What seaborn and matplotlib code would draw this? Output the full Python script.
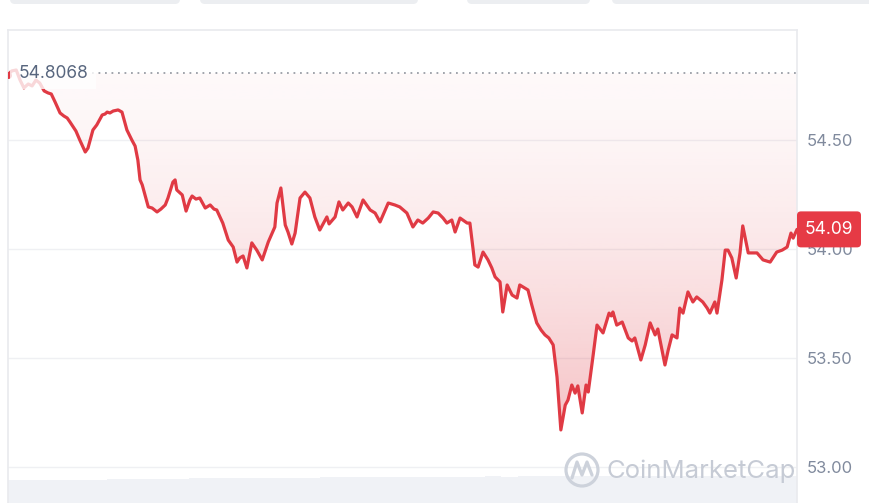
import numpy as np
import pandas as pd
import matplotlib
matplotlib.use("Agg")
import matplotlib.pyplot as plt
from matplotlib.patches import FancyBboxPatch, Circle
import matplotlib.transforms as mtransforms
import seaborn as sns

# 24h price, minutes since open
minutes = [0, 7, 15, 22, 29, 37, 44, 51, 58, 66,
           73, 79, 86, 95, 102, 108, 113, 119, 124, 131,
           141, 146, 155, 162, 172, 177, 181, 186, 192, 201,
           208, 217, 226, 232, 237, 241, 245, 256, 263, 272,
           279, 287, 292, 301, 305, 308, 318, 325, 332, 336,
           343, 350, 360, 369, 376, 381, 392, 402, 411, 418,
           423, 429, 436, 445, 454, 464, 475, 482, 487, 491,
           498, 506, 511, 518, 524, 533, 542, 551, 560, 569,
           582, 586, 597, 604, 611, 621, 628, 637, 648, 661,
           670, 679, 694, 706, 715, 728, 739, 748, 757, 767,
           776, 785, 794, 801, 810, 816, 825, 838, 843, 849,
           852, 858, 867, 876, 883, 889, 898, 903, 911, 920,
           929, 934, 949, 956, 965, 973, 980, 987, 995, 1002,
           1009, 1017, 1022, 1029, 1035, 1040, 1048, 1055, 1059, 1068,
           1075, 1086, 1097, 1101, 1104, 1111, 1121, 1132, 1139, 1144,
           1155, 1163, 1172, 1181, 1186, 1199, 1205, 1212, 1221, 1226,
           1232, 1241, 1250, 1257, 1268, 1276, 1281, 1290, 1294, 1303,
           1309, 1314, 1321, 1329, 1336, 1341, 1351, 1360, 1367, 1378,
           1391, 1403, 1413, 1422, 1429, 1433, 1440]

prices = [54.800, 54.817, 54.821, 54.775, 54.739, 54.757, 54.748, 54.775, 54.761, 54.725,
          54.716, 54.711, 54.674, 54.624, 54.610, 54.601, 54.583, 54.560, 54.541, 54.500,
          54.445, 54.463, 54.546, 54.569, 54.615, 54.619, 54.628, 54.624, 54.633, 54.638,
          54.628, 54.546, 54.500, 54.472, 54.408, 54.317, 54.294, 54.193, 54.188, 54.170,
          54.183, 54.202, 54.234, 54.307, 54.317, 54.271, 54.248, 54.174, 54.225, 54.243,
          54.229, 54.234, 54.188, 54.202, 54.183, 54.179, 54.119, 54.041, 54.009, 53.940,
          53.959, 53.968, 53.913, 54.028, 53.995, 53.950, 54.032, 54.073, 54.101, 54.211,
          54.280, 54.110, 54.078, 54.023, 54.073, 54.234, 54.261, 54.234, 54.147, 54.087,
          54.147, 54.115, 54.147, 54.216, 54.179, 54.211, 54.193, 54.147, 54.225, 54.179,
          54.165, 54.124, 54.211, 54.202, 54.193, 54.165, 54.101, 54.133, 54.119, 54.142,
          54.170, 54.165, 54.142, 54.119, 54.133, 54.078, 54.142, 54.119, 54.119, 53.995,
          53.927, 53.917, 53.986, 53.950, 53.913, 53.872, 53.849, 53.711, 53.835, 53.789,
          53.775, 53.835, 53.812, 53.743, 53.661, 53.628, 53.606, 53.592, 53.560, 53.413,
          53.170, 53.284, 53.307, 53.376, 53.339, 53.372, 53.248, 53.376, 53.344, 53.514,
          53.651, 53.615, 53.706, 53.693, 53.711, 53.651, 53.665, 53.592, 53.578, 53.592,
          53.491, 53.560, 53.661, 53.606, 53.633, 53.468, 53.537, 53.606, 53.592, 53.729,
          53.706, 53.803, 53.757, 53.780, 53.757, 53.729, 53.706, 53.757, 53.706, 53.858,
          53.995, 53.995, 53.959, 53.867, 53.982, 54.106, 53.982, 53.982, 53.982, 53.950,
          53.940, 53.986, 53.995, 54.009, 54.073, 54.050, 54.090]

# 30 minute volume bins (relative)
volume = [0.76, 0.77, 0.77, 0.78, 0.77, 0.78, 0.79, 0.79, 0.80, 0.80,
          0.81, 0.82, 0.82, 0.83, 0.83, 0.84, 0.84, 0.85, 0.85, 0.86,
          0.86, 0.86, 0.87, 0.87, 0.87, 0.88, 0.88, 0.88, 0.88, 0.89,
          0.88, 0.89, 0.89, 0.89, 0.90, 0.89, 0.90, 0.90, 0.90, 0.89,
          0.90, 0.90, 0.90, 0.90, 0.90, 0.90, 0.90, 0.90]

open_price = 54.8068
last_price = prices[-1]
y_ticks = [53.00, 53.50, 54.00, 54.50]

RED = "#e03a44"
GREY_TXT = "#808a9d"

df = pd.DataFrame({"minute": minutes, "price": prices})

sns.set_theme(style="white")
plt.rcParams["font.family"] = ["Inter", "DejaVu Sans"]

fig = plt.figure(figsize=(8.69, 5.03), dpi=100)
fig.patch.set_facecolor("white")

# volume strip at the bottom
axv = fig.add_axes([8 / 869, 0, 789 / 869, 30 / 503], zorder=0)
axv.bar(np.arange(len(volume)) * 30 + 15, volume, width=30, color="#f0f2f6", linewidth=0)
axv.set_xlim(0, 1440)
axv.set_ylim(0, 1)
axv.axis("off")

ax = fig.add_axes([8 / 869, 0, 789 / 869, 473 / 503], zorder=1)
ax.patch.set_alpha(0)

# gradient fill between price and open
poly = ax.fill_between(df["minute"], df["price"], open_price, color="none", linewidth=0)
rows = np.linspace(open_price, 52.9, 400)
t = np.clip((open_price - rows) / (open_price - 53.17), 0, 1)
alpha = 0.03 + 0.28 * t ** 1.5
rgba = np.zeros((len(rows), 1, 4))
rgba[..., 0], rgba[..., 1], rgba[..., 2] = matplotlib.colors.to_rgb(RED)
rgba[:, 0, 3] = alpha
im = ax.imshow(rgba, extent=[0, 1440, 52.9, open_price], aspect="auto",
               origin="upper", zorder=1, interpolation="bilinear")
im.set_clip_path(poly.get_paths()[0], transform=ax.transData)

for v in y_ticks:
    ax.axhline(v, color="#eff0f3", linewidth=1, zorder=0.5)

ax.axhline(open_price, xmin=0.107, xmax=1, color="#9a9ea6", linewidth=1.3,
           linestyle=(0, (1, 2.6)), zorder=2)

sns.lineplot(data=df, x="minute", y="price", ax=ax, color=RED, linewidth=2.3,
             zorder=3, legend=False)
ax.lines[-1].set_solid_joinstyle("round")
ax.plot(minutes[0], prices[0], "o", color=RED, markersize=4, zorder=4)

ax.set_xlim(0, 1440)
ax.set_ylim(52.8349, 55.0046)
ax.yaxis.tick_right()
ax.set_yticks(y_ticks)
ax.set_yticklabels([f"{v:.2f}" for v in y_ticks])
ax.tick_params(axis="y", length=0, pad=7, labelsize=12, labelcolor=GREY_TXT)
ax.set_xticks([])
ax.set_xlabel("")
ax.set_ylabel("")
for side in ["top", "left", "right"]:
    ax.spines[side].set_color("#e9eaee")
    ax.spines[side].set_linewidth(1.2)
ax.spines["bottom"].set_visible(False)

trans = mtransforms.blended_transform_factory(ax.transAxes, ax.transData)
ax.text(0.013, open_price, f"{open_price:.4f}", transform=trans, ha="left", va="center",
        fontsize=12.5, color="#58667e", zorder=5,
        bbox=dict(boxstyle="square,pad=0.45", facecolor="white", edgecolor="none", alpha=0.8))

# decorations in pixel space
ov = fig.add_axes([0, 0, 1, 1], zorder=5)
ov.set_xlim(0, 869)
ov.set_ylim(503, 0)
ov.axis("off")
ov.patch.set_alpha(0)

for x0, x1 in [(10, 180), (200, 418), (467, 590), (612, 875)]:
    ov.add_patch(FancyBboxPatch((x0, -10), x1 - x0, 14, boxstyle="round,pad=0,rounding_size=5",
                                facecolor="#eceef1", edgecolor="none"))

badge_y = 140 + (54.5 - last_price) * 218
ov.add_patch(FancyBboxPatch((797, badge_y - 18), 64, 36, boxstyle="round,pad=0,rounding_size=4",
                            facecolor="#e63a45", edgecolor="none"))
ov.text(829, badge_y, f"{last_price:.2f}", ha="center", va="center", color="white", fontsize=12.5)

# watermark
ov.add_patch(Circle((582, 470), 16, facecolor="none", edgecolor="#cdd2db", linewidth=2.3))
ov.plot([572, 577, 582, 587, 592], [478, 462, 475, 462, 475], color="#cdd2db", linewidth=2.3)
ov.text(606, 471, "CoinMarketCap", ha="left", va="center", color="#c6cbd5", fontsize=18.5)

fig.savefig("out.png", dpi=100)
